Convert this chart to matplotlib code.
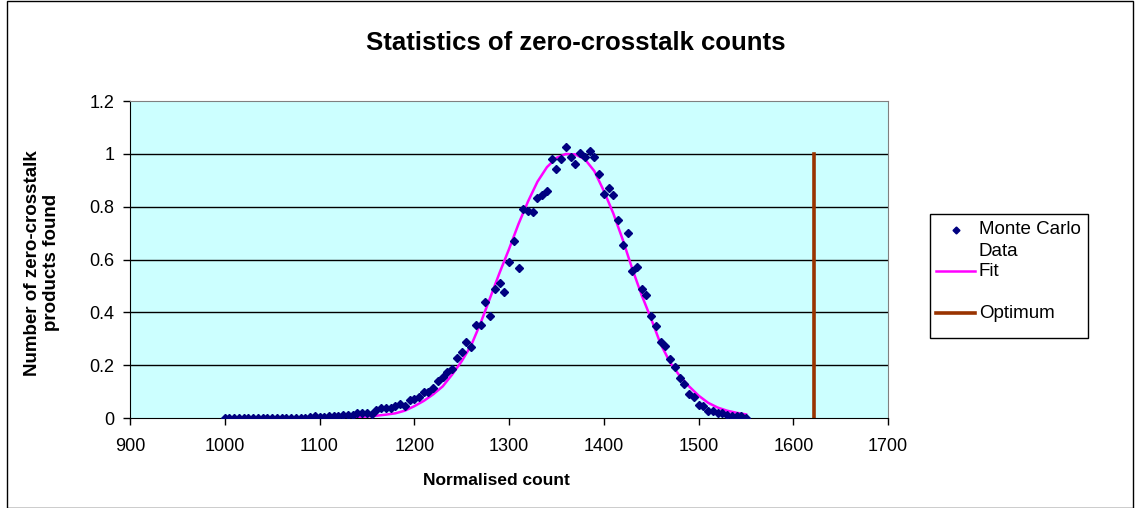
import matplotlib
matplotlib.use("Agg")
from matplotlib import pyplot as plt
from matplotlib.patches import Rectangle
from matplotlib.lines import Line2D

plt.rcParams['font.family'] = ['Liberation Sans', 'DejaVu Sans']

# Monte Carlo points, one every 5 counts from 1000 to 1550
mc_x = list(range(1000, 1555, 5))
mc_y = [0.001, 0.001, 0.001, 0.001, 0.001, 0.001, 0.001, 0.001, 0.001, 0.001,   # 1000-1045
        0.001, 0.001, 0.001, 0.001, 0.001, 0.002, 0.002, 0.002, 0.003, 0.007,   # 1050-1095
        0.005, 0.005, 0.006, 0.006, 0.006, 0.011, 0.011, 0.012, 0.02, 0.02,     # 1100-1145
        0.021, 0.016, 0.03, 0.037, 0.04, 0.04, 0.045, 0.053, 0.047, 0.067,     # 1150-1195
        0.071, 0.081, 0.10, 0.097, 0.114, 0.141, 0.154, 0.173, 0.184, 0.226,   # 1200-1245
        0.249, 0.287, 0.268, 0.352, 0.352, 0.44, 0.386, 0.487, 0.51, 0.478,    # 1250-1295
        0.589, 0.672, 0.567, 0.79, 0.785, 0.78, 0.835, 0.845, 0.86, 0.98,      # 1300-1345
        0.944, 0.98, 1.027, 0.987, 0.962, 1.005, 0.987, 1.01, 0.99, 0.924,     # 1350-1395
        0.85, 0.87, 0.845, 0.748, 0.657, 0.70, 0.558, 0.573, 0.49, 0.466,      # 1400-1445
        0.386, 0.348, 0.289, 0.274, 0.222, 0.192, 0.153, 0.128, 0.09, 0.081,   # 1450-1495
        0.048, 0.044, 0.028, 0.028, 0.019, 0.019, 0.01, 0.008, 0.008, 0.007,   # 1500-1545
        0.001]                                                                  # 1550

# fitted curve, read every 10 counts
fit_x = list(range(1000, 1560, 10))
fit_y = [0.0, 0.0, 0.0, 0.0, 0.0, 0.0, 0.0, 0.0, 0.0, 0.0,
         0.0, 0.001, 0.002, 0.003, 0.004, 0.006, 0.009, 0.013, 0.018, 0.028,
         0.045, 0.065, 0.09, 0.12, 0.165, 0.215, 0.275, 0.36, 0.455, 0.55,
         0.64, 0.735, 0.82, 0.895, 0.95, 0.985, 1.0, 0.998, 0.98, 0.935,
         0.86, 0.775, 0.675, 0.565, 0.465, 0.375, 0.28, 0.21, 0.16, 0.12,
         0.085, 0.058, 0.04, 0.028, 0.02, 0.014]

opt_x = 1622
opt_y = [0, 1.0]

x_ticks = range(900, 1800, 100)
y_ticks = [0, 0.2, 0.4, 0.6, 0.8, 1, 1.2]
y_labels = ["0", "0.2", "0.4", "0.6", "0.8", "1", "1.2"]

fig = plt.figure(figsize=(11.35, 5.08), dpi=100)
ax = fig.add_axes([0.1145, 0.177, 0.668, 0.624])
ax.set_facecolor('#CCFFFF')

for t in y_ticks[1:-1]:
    ax.axhline(t, color='black', lw=1, zorder=1)

ax.plot(fit_x, fit_y, color='#FF00FF', lw=1.8, zorder=2)
ax.plot(mc_x, mc_y, linestyle='none', marker='D', markersize=4.2,
        color='#000080', zorder=3)
ax.plot([opt_x, opt_x], opt_y, color='#993300', lw=2.6, zorder=2)

ax.set_xlim(900, 1700)
ax.set_ylim(0, 1.2)
ax.set_xticks(list(x_ticks))
ax.set_yticks(y_ticks)
ax.set_yticklabels(y_labels)
ax.tick_params(labelsize=13, direction='out', length=5, width=1, color='black')
ax.tick_params(axis='y', pad=6)
ax.tick_params(axis='x', pad=9)
for s in ax.spines.values():
    s.set_color('#808080')
ax.spines['bottom'].set_color('black')
ax.spines['left'].set_color('black')

ax.set_xlabel("Normalised count", fontsize=12.5, fontweight='bold')
ax.xaxis.set_label_coords(0.484, -0.196)
ax.xaxis.label.set_va('center')
ax.set_ylabel("Number of zero-crosstalk\nproducts found", fontsize=13.5,
              fontweight='bold')
ax.yaxis.set_label_coords(-0.116, 0.49)
ax.yaxis.label.set_va('center')
fig.text(0.507, 0.915, "Statistics of zero-crosstalk counts", fontsize=18.5,
         fontweight='bold', ha='center', va='center')

# legend drawn by hand to keep the spacing of the original box
fig.patches.append(Rectangle((930 / 1135, 1 - 338 / 508), 158 / 1135, 124 / 508,
                             transform=fig.transFigure, fill=False,
                             edgecolor='black', lw=1))
fig.lines.append(Line2D([956 / 1135], [1 - 230 / 508], transform=fig.transFigure,
                        linestyle='none', marker='D', markersize=3.5, color='#000080'))
fig.lines.append(Line2D([936 / 1135, 975 / 1135], [1 - 271 / 508] * 2,
                        transform=fig.transFigure, color='#FF00FF', lw=1.8))
fig.lines.append(Line2D([936 / 1135, 975 / 1135], [1 - 313 / 508] * 2,
                        transform=fig.transFigure, color='#993300', lw=2.6))
legend_texts = [("Monte Carlo", 230), ("Data", 252), ("Fit", 271), ("Optimum", 313)]
for txt, yp in legend_texts:
    fig.text(979 / 1135, 1 - yp / 508, txt, fontsize=13.5, ha='left', va='center')

fig.patches.append(Rectangle((0.006, 0.0), 0.992, 0.999, transform=fig.transFigure,
                             fill=False, edgecolor='black', lw=1))

plt.savefig('out.png', dpi=100)
